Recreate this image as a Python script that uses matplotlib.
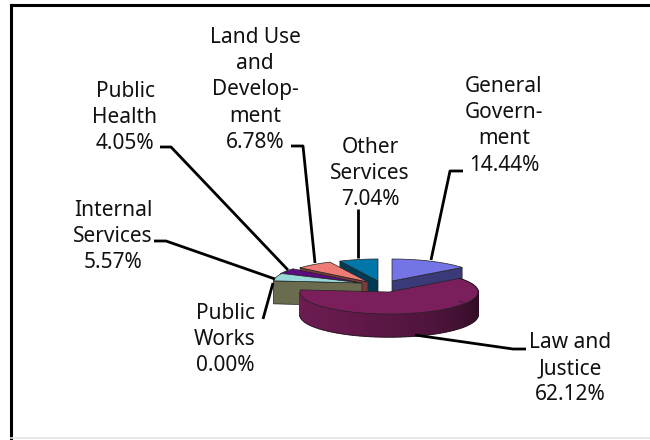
import matplotlib
matplotlib.use("Agg")
import matplotlib.pyplot as plt
from matplotlib.colors import to_rgb
from matplotlib.patches import Polygon
import numpy as np

names = ["General\nGovern-\nment", "Law and\nJustice", "Public\nWorks", "Internal\nServices",
         "Public\nHealth", "Land Use\nand\nDevelop-\nment", "Other\nServices"]
values = [14.44, 62.12, 0.00, 5.57, 4.05, 6.78, 7.04]

top_colors = ["#7474e6", "#7b1f5c", "#6b6b50", "#98d8d8", "#5c0c80", "#ee7b76", "#0077a8"]
wall_colors = ["#3a3a78", "#4a1238", "#6b6b50", "#6b6b50", "#2e0640", "#7a3c3a", "#003c54"]

# where each exploded slice has its apex, in pixels of the 650x440 picture
centers = [(392, 281), (389, 292), (362, 283), (362, 283), (361, 283), (368, 282), (378, 281)]
label_x = [504, 570, 225, 113, 125, 255, 370]
label_y = [85, 341, 312, 209, 90, 36, 146]
leaders = [
    [(463, 171), (450, 171), (431, 260)],
    [(526, 349), (513, 349), (415, 335)],
    [(263, 319), (273, 283)],
    [(154, 241), (166, 241), (275, 279)],
    [(160, 147), (171, 147), (288, 270)],
    [(291, 146), (303, 146), (315, 263)],
    [(358, 209), (358, 258)],
]

RX = 89
RY = 22
DEPTH = 23
LINE_PITCH = 26.2

plt.rcParams["font.family"] = ["Noto Sans", "DejaVu Sans"]
fig, ax = plt.subplots(figsize=(6.5, 4.4), dpi=100)
fig.subplots_adjust(0, 0, 1, 1)
ax.set_xlim(0, 650)
ax.set_ylim(440, 0)
ax.axis("off")


def rim(cx, cy, start, end, drop=0):
    t = np.radians(np.linspace(start, end, 80))
    return np.column_stack([cx + RX * np.sin(t), cy - RY * np.cos(t) + drop])


def wall(cx, cy, angle, color, z):
    tip = rim(cx, cy, angle, angle)[0]
    pts = [(cx, cy), tuple(tip), (tip[0], tip[1] + DEPTH), (cx, cy + DEPTH)]
    ax.add_patch(Polygon(pts, closed=True, fc=color, ec="#222222", lw=0.5, zorder=z))


# slice limits in degrees, clockwise from twelve o'clock
edges = np.cumsum([0] + values) * 3.6

# back slices first, so the nearer ones cover them
order = [6, 5, 4, 3, 0]
for z, i in enumerate(order):
    cx, cy = centers[i]
    start, end = edges[i], edges[i + 1]
    wall(cx, cy, end if i == 0 else start, wall_colors[i], 2 + z * 2)
    face = np.vstack([[(cx, cy)], rim(cx, cy, start, end)])
    ax.add_patch(Polygon(face, closed=True, fc=top_colors[i], ec="#222222", lw=0.5, zorder=3 + z * 2))

# Law and Justice, with the shaded round side
cx, cy = centers[1]
start, end = edges[1], edges[2]
steps = np.linspace(start, 270, 90)
shade = np.array([to_rgb(c) for c in ["#2e0a24", "#4e143c", "#641a4c", "#6e1c54"]])
shade_at = [90, 150, 210, 270]
for a, b in zip(steps[:-1], steps[1:]):
    color = [np.interp(a, shade_at, shade[:, k]) for k in range(3)]
    upper = rim(cx, cy, a, b)
    lower = rim(cx, cy, b, a, DEPTH)
    ax.add_patch(Polygon(np.vstack([upper, lower]), closed=True, fc=color, ec=color, lw=1.0, zorder=20))
face = np.vstack([[(cx, cy)], rim(cx, cy, start, end)])
ax.add_patch(Polygon(face, closed=True, fc=top_colors[1], ec="#222222", lw=0.5, zorder=21))
ax.plot(*rim(cx, cy, start, 270, DEPTH).T, color="#222222", lw=0.5, zorder=21)

for line in leaders:
    xs, ys = zip(*line)
    ax.plot(xs, ys, color="black", lw=2.0, zorder=30, solid_capstyle="butt")

for name, value, x, y in zip(names, values, label_x, label_y):
    rows = name.split("\n") + [f"{value:.2f}%"]
    for n, row in enumerate(rows):
        ax.text(x, y + n * LINE_PITCH + 7, row, ha="center", va="baseline", fontsize=15, color="#111111", zorder=31)

# chart frame: it is open on the right
ax.plot([11, 11], [440, 5], color="black", lw=2.2, zorder=40)
ax.plot([11, 650], [5, 5], color="black", lw=2.2, zorder=40)
ax.plot([11, 650], [438.5, 438.5], color="#e4e4e4", lw=1.2, zorder=40)

fig.savefig("out.png", dpi=100)
